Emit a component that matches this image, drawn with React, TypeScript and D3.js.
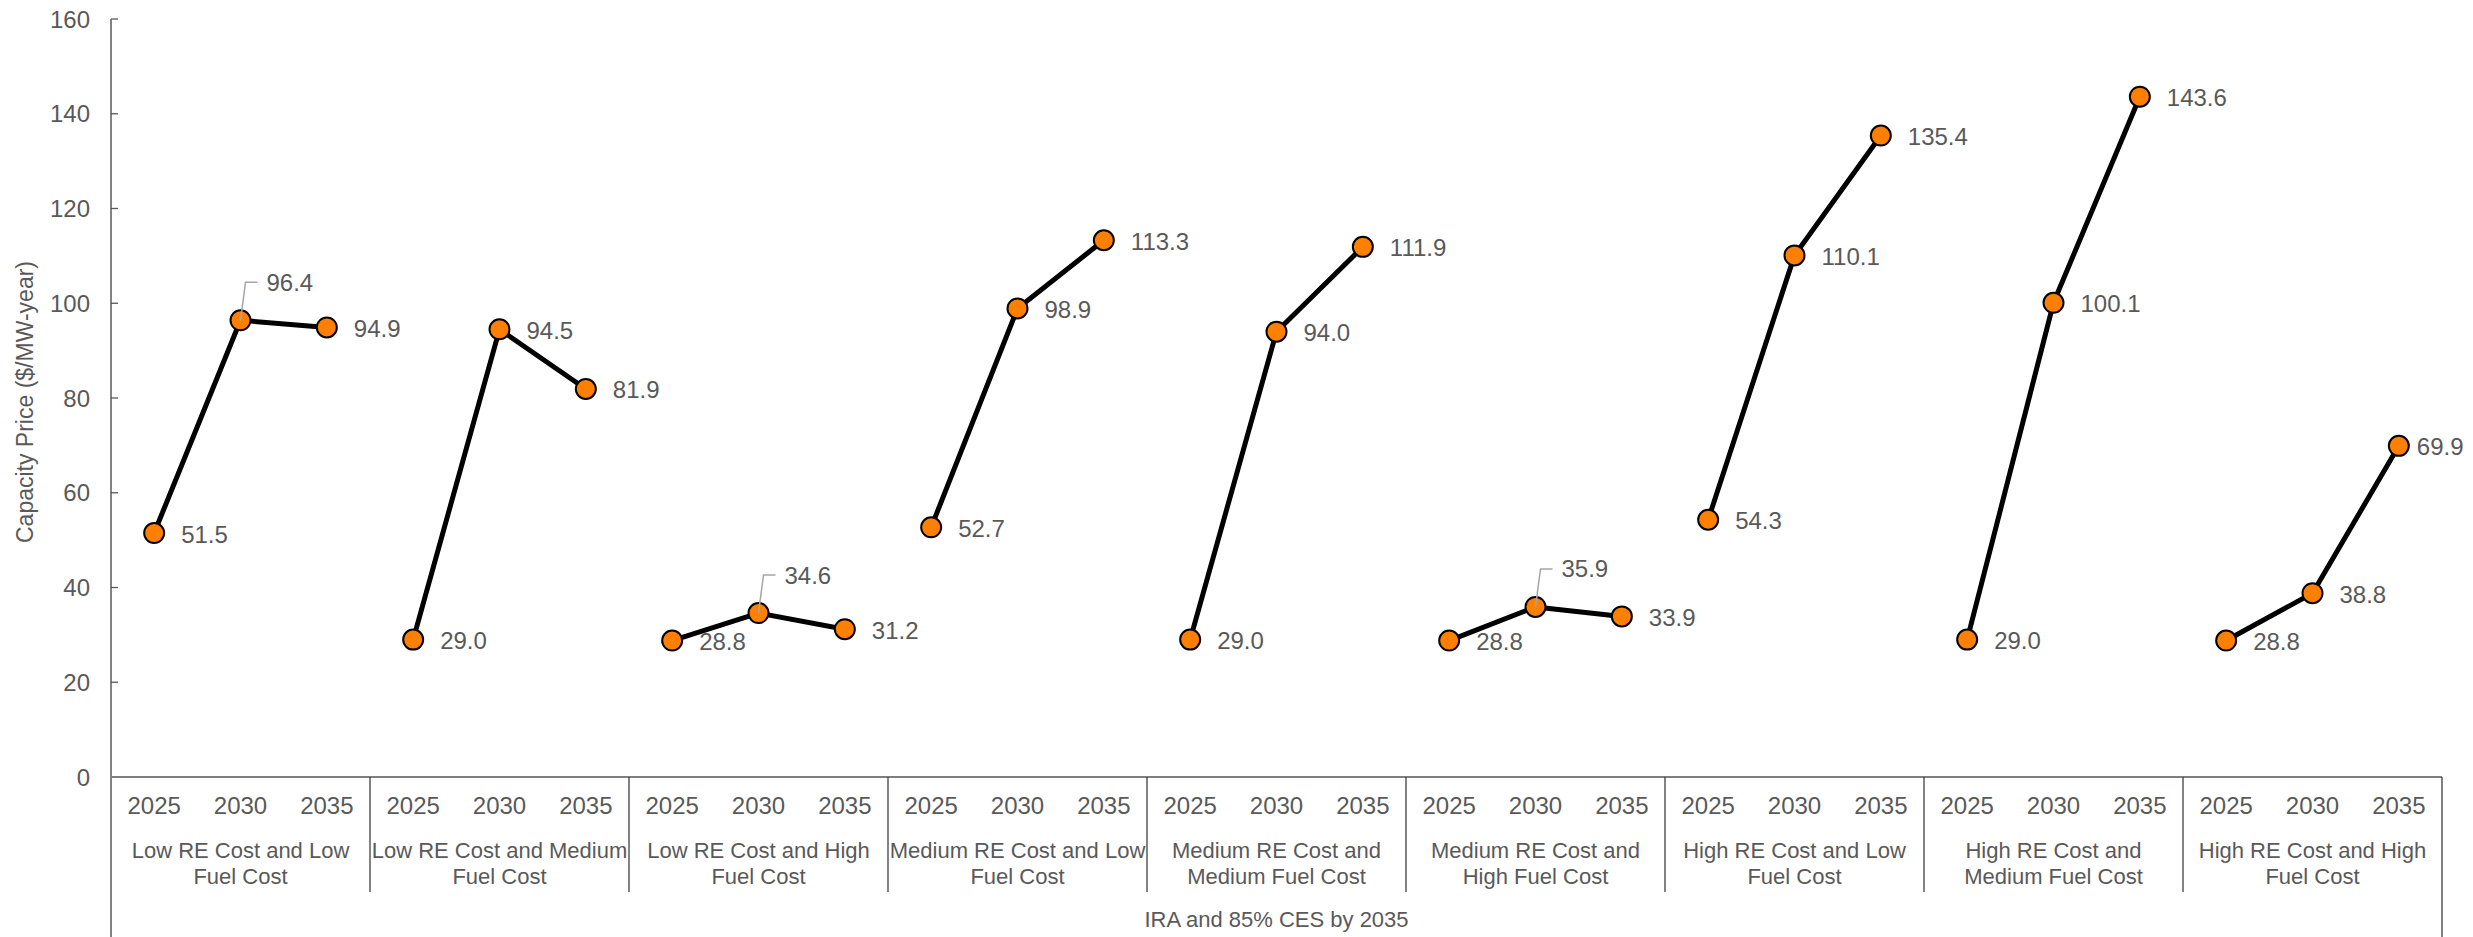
import React from "react";
import * as d3 from "d3";

const groups: string[] = [
  "Low RE Cost and Low\nFuel Cost",
  "Low RE Cost and Medium\nFuel Cost",
  "Low RE Cost and High\nFuel Cost",
  "Medium RE Cost and Low\nFuel Cost",
  "Medium RE Cost and\nMedium Fuel Cost",
  "Medium RE Cost and\nHigh Fuel Cost",
  "High RE Cost and Low\nFuel Cost",
  "High RE Cost and\nMedium Fuel Cost",
  "High RE Cost and High\nFuel Cost",
];
const years: string[] = ["2025", "2030", "2035"];
const values: number[][] = [
  [51.5, 96.4, 94.9],
  [29.0, 94.5, 81.9],
  [28.8, 34.6, 31.2],
  [52.7, 98.9, 113.3],
  [29.0, 94.0, 111.9],
  [28.8, 35.9, 33.9],
  [54.3, 110.1, 135.4],
  [29.0, 100.1, 143.6],
  [28.8, 38.8, 69.9],
];
// label placement mode per point: "r" right, "a" above with leader, "t" right tight
const labelModes: string[][] = [
  ["r", "a", "r"],
  ["r", "r", "r"],
  ["r", "a", "r"],
  ["r", "r", "r"],
  ["r", "r", "r"],
  ["r", "a", "r"],
  ["r", "r", "r"],
  ["r", "r", "r"],
  ["r", "r", "t"],
];
const yTicks: number[] = [0, 20, 40, 60, 80, 100, 120, 140, 160];
const outerLabel = "IRA and 85% CES by 2035";
const yTitle = "Capacity Price ($/MW-year)";

const W = 2473;
const H = 937;
const left = 111;
const right = 2442;
const top = 19;
const bottom = 777;
const FONT = "'Liberation Sans', Arial, sans-serif";
const TEXT = "#595959";

export default function App() {
  const x = d3.scaleBand<string>().domain(groups).range([left, right]).padding(0);
  const xi = d3.scaleBand<string>().domain(years).range([0, x.bandwidth()]).padding(0);
  const y = d3.scaleLinear().domain([0, 160]).range([bottom, top]);
  const line = d3
    .line<[number, number]>()
    .x((d) => d[0])
    .y((d) => d[1]);

  const px = (g: string, yr: string) => (x(g) as number) + (xi(yr) as number) + xi.bandwidth() / 2;

  return (
    <div>
      <style>{`body{margin:0;background:#fff}`}</style>
      <svg width={W} height={H} style={{ display: "block", fontFamily: FONT }}>
        <rect width={W} height={H} fill="#fff" />
        {/* y ticks */}
        {yTicks.map((t) => (
          <g key={t}>
            <line x1={left} x2={left + 7} y1={y(t)} y2={y(t)} stroke="#595959" strokeWidth={1.3} />
            <text x={90} y={y(t)} textAnchor="end" dominantBaseline="central" fontSize={24} fill={TEXT}>
              {t}
            </text>
          </g>
        ))}
        {/* y axis line */}
        <line x1={left} x2={left} y1={top} y2={H} stroke="#595959" strokeWidth={1.5} />
        {/* y title */}
        <text
          transform={`translate(25,${(top + bottom) / 2 + 4}) rotate(-90)`}
          textAnchor="middle"
          dominantBaseline="central"
          fontSize={23}
          fill={TEXT}
        >
          {yTitle}
        </text>
        {/* x axis line */}
        <line x1={left} x2={right} y1={bottom} y2={bottom} stroke="#7f7f7f" strokeWidth={2} />
        {/* group separators */}
        {groups.slice(1).map((g) => (
          <line key={g} x1={x(g)} x2={x(g)} y1={bottom} y2={892} stroke="#404040" strokeWidth={1.3} />
        ))}
        <line x1={right} x2={right} y1={bottom} y2={H} stroke="#404040" strokeWidth={1.3} />
        {/* year labels and group labels */}
        {groups.map((g) => (
          <g key={g}>
            {years.map((yr) => (
              <text
                key={yr}
                x={px(g, yr)}
                y={805}
                textAnchor="middle"
                dominantBaseline="central"
                fontSize={24}
                fill={TEXT}
              >
                {yr}
              </text>
            ))}
            {g.split("\n").map((ln, i) => (
              <text
                key={i}
                x={(x(g) as number) + x.bandwidth() / 2}
                y={850 + i * 26.5}
                textAnchor="middle"
                dominantBaseline="central"
                fontSize={22}
                fill={TEXT}
              >
                {ln}
              </text>
            ))}
          </g>
        ))}
        <text x={(left + right) / 2} y={919} textAnchor="middle" dominantBaseline="central" fontSize={22} fill={TEXT}>
          {outerLabel}
        </text>
        {/* lines */}
        {groups.map((g, gi) => (
          <path
            key={g}
            d={line(years.map((yr, k) => [px(g, yr), y(values[gi][k])] as [number, number])) || ""}
            fill="none"
            stroke="#000"
            strokeWidth={5}
            strokeLinejoin="round"
          />
        ))}
        {/* markers */}
        {groups.map((g, gi) =>
          years.map((yr, k) => (
            <circle
              key={g + yr}
              cx={px(g, yr)}
              cy={y(values[gi][k])}
              r={10}
              fill="#FF8000"
              stroke="#000"
              strokeWidth={2}
            />
          ))
        )}
        {/* data labels */}
        {groups.map((g, gi) =>
          years.map((yr, k) => {
            const cx = px(g, yr);
            const cy = y(values[gi][k]);
            const mode = labelModes[gi][k];
            const label = values[gi][k].toFixed(1);
            if (mode === "a") {
              const ly = cy - 38;
              return (
                <g key={g + yr + "l"}>
                  <polyline
                    points={`${cx},${cy} ${cx + 5},${ly} ${cx + 17},${ly}`}
                    fill="none"
                    stroke="#A6A6A6"
                    strokeWidth={1.5}
                  />
                  <text x={cx + 26} y={ly} dominantBaseline="central" fontSize={24} fill={TEXT}>
                    {label}
                  </text>
                </g>
              );
            }
            const dx = mode === "t" ? 18 : 27;
            return (
              <text key={g + yr + "l"} x={cx + dx} y={cy + 1} dominantBaseline="central" fontSize={24} fill={TEXT}>
                {label}
              </text>
            );
          })
        )}
      </svg>
    </div>
  );
}
